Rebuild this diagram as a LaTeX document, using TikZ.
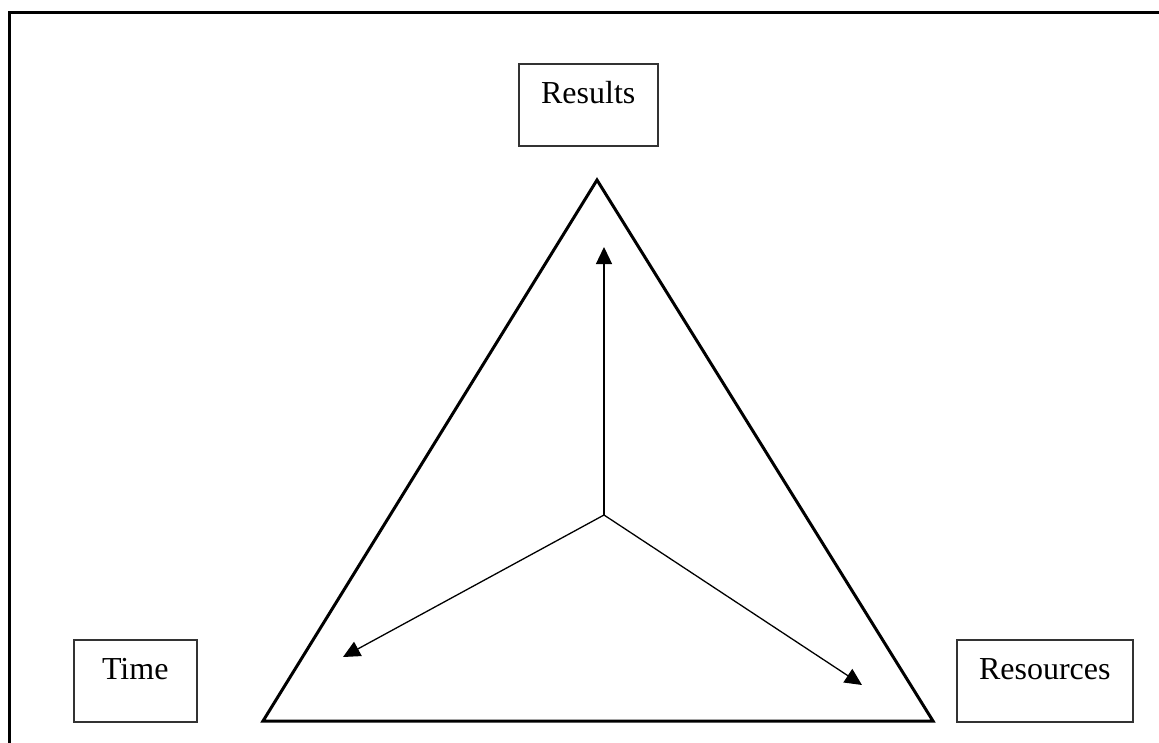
\documentclass[tikz,border=0pt]{standalone}
\usepackage{fontspec}
\setmainfont{Liberation Serif}
\usetikzlibrary{arrows.meta}
\begin{document}
\begin{tikzpicture}[x=1pt,y=-1pt,
  labelbox/.style={draw=black!80, line width=1.5pt, inner sep=0pt, text height=40pt, text depth=42pt, font=\fontsize{32}{36}\selectfont, anchor=north west},
  heavy/.style={line width=3pt, line join=miter},
  vec/.style={line width=1.3pt, draw=black, -{Triangle[length=17pt,width=16pt]}}]
\useasboundingbox (0,0) rectangle (1159,742);
\clip (0,0) rectangle (1159,742);
\fill[white] (0,0) rectangle (1159,742);
\draw[heavy] (9,760) -- (9,12) -- (1175,12);
\node[labelbox, minimum width=139pt] (results) at (518,63) {Results};
\node[labelbox, minimum width=123pt] (time) at (73,639) {Time};
\node[labelbox, minimum width=176pt] (resources) at (956,639) {Resources};
\coordinate (apex) at (597,180);
\coordinate (bl) at (263,721);
\coordinate (br) at (933,721);
\draw[heavy] (apex) -- (br) -- (bl) -- cycle;
\coordinate (c) at (604,515);
\coordinate (tu) at (604,247);
\coordinate (tl) at (343,657);
\coordinate (tr) at (862,685);
\draw[vec] (c) -- (tu);
\draw[vec] (c) -- (tl);
\draw[vec] (c) -- (tr);
\end{tikzpicture}
\end{document}
